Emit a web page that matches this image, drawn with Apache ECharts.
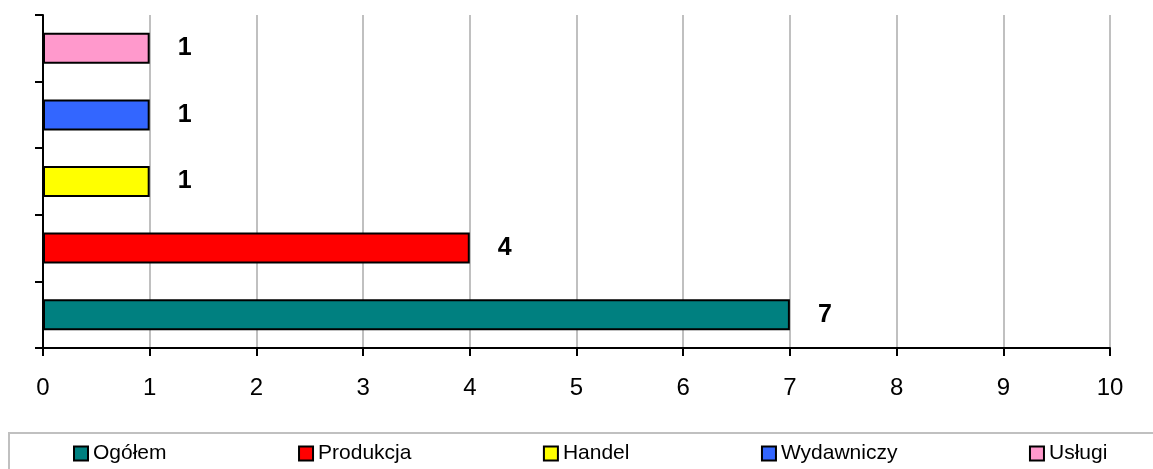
<!DOCTYPE html>
<html>
<head>
<meta charset="utf-8">
<script src="https://cdn.jsdelivr.net/npm/echarts@6/dist/echarts.min.js"></script>
<style>
  html, body { margin: 0; padding: 0; background: #fff; }
  #chart { width: 1153px; height: 469px; }
</style>
</head>
<body>
<div id="chart"></div>
<script>
// dane z wykresu
var categories = ['Ogółem', 'Produkcja', 'Handel', 'Wydawniczy', 'Usługi'];
var values = [7, 4, 1, 1, 1];
var colors = ['#008080', '#FF0000', '#FFFF00', '#3366FF', '#FF99CC'];
var xTicks = { min: 0, max: 10, interval: 1 };

var font = 'Arial, "Liberation Sans", sans-serif';

// jedna seria na kategorię, żeby legenda pokazała wszystkie
var series = categories.map(function (name, i) {
  var data = categories.map(function (c, j) { return j === i ? values[i] : '-'; });
  return {
    name: name,
    type: 'bar',
    stack: 'all',
    barWidth: 31,
    data: data,
    itemStyle: { color: colors[i], borderColor: '#000', borderWidth: 2 },
    label: {
      show: true,
      position: 'right',
      distance: 28,
      color: '#000',
      fontFamily: font,
      fontWeight: 'bold',
      fontSize: 25
    }
  };
});

var chart = echarts.init(document.getElementById('chart'));
chart.setOption({
  animation: false,
  color: colors,
  grid: { left: 43, right: 43, top: 15, bottom: 121 },
  legend: {
    data: categories,
    left: 73,
    top: 443,
    padding: 0,
    itemWidth: 14,
    itemHeight: 14,
    itemGap: 131.5,
    icon: 'rect',
    itemStyle: { borderColor: '#000', borderWidth: 2 },
    textStyle: { color: '#000', fontFamily: font, fontSize: 21 }
  },
  graphic: [{
    type: 'rect',
    shape: { x: 9, y: 433, width: 1160, height: 60 },
    style: { fill: 'none', stroke: '#c0c0c0', lineWidth: 2 },
    z: -1
  }],
  xAxis: {
    type: 'value',
    min: xTicks.min,
    max: xTicks.max,
    interval: xTicks.interval,
    axisLine: { show: true, lineStyle: { color: '#000', width: 2 } },
    axisTick: { show: true, length: 8, lineStyle: { color: '#000', width: 2 } },
    axisLabel: { color: '#000', fontFamily: font, fontSize: 24, margin: 28 },
    splitLine: { show: true, lineStyle: { color: '#c0c0c0', width: 2 } }
  },
  yAxis: {
    type: 'category',
    data: categories,
    axisLine: { show: true, lineStyle: { color: '#000', width: 2 } },
    axisTick: { show: true, length: 8, lineStyle: { color: '#000', width: 2 } },
    axisLabel: { show: false }
  },
  series: series
});
</script>
</body>
</html>
